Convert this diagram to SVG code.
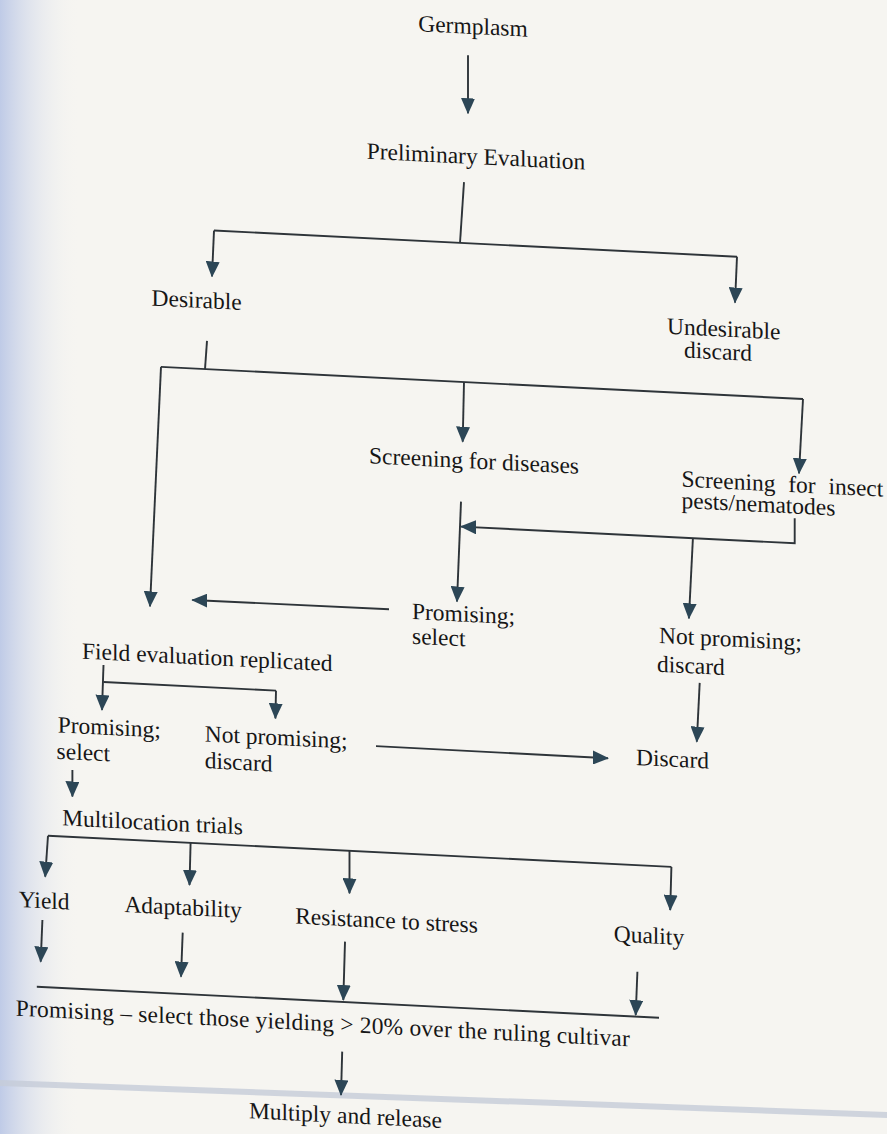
<svg xmlns="http://www.w3.org/2000/svg" width="887" height="1134" viewBox="0 0 887 1134">
<defs>
<style>
.t{font-family:"Liberation Serif","Times New Roman",serif;font-size:23.5px;fill:#161616}
.m{text-anchor:middle}
.c{fill:none;stroke:#2e3439;stroke-width:1.9}
.a{marker-end:url(#ah)}
</style>
<marker id="ah" viewBox="0 0 16 14" refX="15" refY="7" markerWidth="16" markerHeight="14" markerUnits="userSpaceOnUse" orient="auto">
<path d="M0,0 L16,7 L0,14 z" fill="#2c4656"/>
</marker>
<linearGradient id="lg" x1="0" y1="0" x2="1" y2="0">
<stop offset="0" stop-color="#b9c6e6" stop-opacity="0.9"/>
<stop offset="1" stop-color="#f6f5f1" stop-opacity="0"/>
</linearGradient>
</defs>
<rect width="887" height="1134" fill="#f6f5f1"/>
<rect width="80" height="1134" fill="url(#lg)"/>
<path d="M0,1080 L887,1112 L887,1118 L0,1086 z" fill="#c5ccd8" opacity="0.8"/>
<g transform="translate(0,-22.15) skewY(2.862)">
<g id="connectors">
<path class="c a" d="M468,54 L468,112"/>
<path class="c" d="M464,181 L460,242"/>
<path class="c" d="M214,242 L737,242"/>
<path class="c a" d="M214,242 L212,288"/>
<path class="c a" d="M737,242 L735,288"/>
<path class="c" d="M207,352.6 L205,381"/>
<path class="c" d="M161,381 L803,381"/>
<path class="c a" d="M161,381 L150,621"/>
<path class="c a" d="M464,381 L462.7,440.7"/>
<path class="c a" d="M803,381 L799,455.5"/>
<path class="c a" d="M461,500.8 L457,600.8"/>
<path class="c a" d="M794.7,500.7 L794.7,525.7 L461,525.7"/>
<path class="c a" d="M692.9,525.8 L688.9,606"/>
<path class="c a" d="M389,612 L192.3,612.5"/>
<path class="c a" d="M699.7,670 L696.8,729"/>
<path class="c a" d="M103.5,682 L102,727"/>
<path class="c" d="M103.5,699 L276,699"/>
<path class="c a" d="M276,699 L275.4,726.7"/>
<path class="c a" d="M376,749.5 L608,750"/>
<path class="c a" d="M72.4,788.5 L72.4,815"/>
<path class="c" d="M48,855.5 L671.4,855.5"/>
<path class="c a" d="M48,855.5 L45.2,896.6"/>
<path class="c a" d="M190.6,855.5 L189.5,897.7"/>
<path class="c a" d="M349.5,855.5 L349.5,898"/>
<path class="c a" d="M671.4,855.5 L670.2,898.6"/>
<path class="c a" d="M42.4,940 L40.7,981.8"/>
<path class="c a" d="M182.7,945.7 L181,989.8"/>
<path class="c a" d="M345,946.6 L343.3,1005"/>
<path class="c a" d="M637.4,962 L635.7,1005.4"/>
<path class="c" d="M36.8,1007 L659,1007"/>
<path class="c a" d="M342.2,1056.7 L341,1100"/>
</g>
<g id="germplasm"><text class="t m" x="473" y="32.5">Germplasm</text></g>
<g id="preliminary"><text class="t m" x="476" y="162.5">Preliminary Evaluation</text></g>
<g id="desirable"><text class="t" x="151.6" y="320">Desirable</text></g>
<g id="undesirable"><text class="t" x="667" y="322.6">Undesirable</text><text class="t m" x="718" y="345.5">discard</text></g>
<g id="diseases"><text class="t" x="369" y="467">Screening for diseases</text></g>
<g id="insects"><text class="t" x="681.5" y="474.7" word-spacing="7">Screening for insect</text><text class="t" x="681.5" y="496">pests/nematodes</text></g>
<g id="promising1"><text class="t" x="412" y="620.6">Promising;</text><text class="t" x="412" y="645.3">select</text></g>
<g id="notpromising1"><text class="t" x="659" y="632.2">Not promising;</text><text class="t" x="657" y="661">discard</text></g>
<g id="field"><text class="t" x="82" y="676.7">Field evaluation replicated</text></g>
<g id="promising2"><text class="t" x="57.7" y="751.7">Promising;</text><text class="t" x="56.6" y="778">select</text></g>
<g id="notpromising2"><text class="t" x="204.7" y="753.3">Not promising;</text><text class="t" x="204.7" y="780">discard</text></g>
<g id="discard"><text class="t" x="636" y="755.3">Discard</text></g>
<g id="multilocation"><text class="t" x="62.2" y="844.4">Multilocation trials</text></g>
<g id="yield"><text class="t" x="18.7" y="928.3">Yield</text></g>
<g id="adaptability"><text class="t" x="124.4" y="928">Adaptability</text></g>
<g id="resistance"><text class="t" x="295.2" y="931">Resistance to stress</text></g>
<g id="quality"><text class="t" x="613.7" y="933">Quality</text></g>
<g id="promising3"><text class="t" x="15.8" y="1037" textLength="614" lengthAdjust="spacing">Promising – select those yielding &gt; 20% over the ruling cultivar</text></g>
<g id="release"><text class="t" x="248.9" y="1128">Multiply and release</text></g>
</g>
</svg>
